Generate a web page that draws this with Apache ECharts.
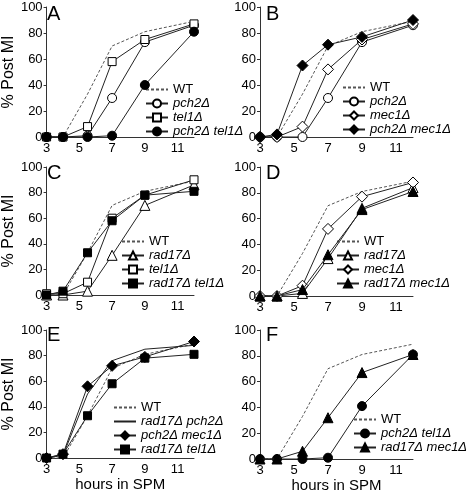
<!DOCTYPE html>
<html><head><meta charset="utf-8">
<script src="https://cdn.jsdelivr.net/npm/echarts@6/dist/echarts.min.js"></script>
<style>html,body{margin:0;padding:0;background:#fff}#c{width:470px;height:495px}</style>
</head><body><div id="c"></div>
<script>
const hours = [3, 4, 5.5, 7, 9, 12];
const xTickLabels = [3, 5, 7, 9, 11];
const panelLetters = ['A', 'B', 'C', 'D', 'E', 'F'];
const yAxisTitle = '% Post MI';
const xAxisTitle = 'hours in SPM';

const wt = [0, 0, 33, 70, 81, 89];
const pch2A = [0, 0, 1, 30, 73, 86];
const tel1A = [0, 0, 8, 58, 75, 87];
const pch2tel1A = [0, 0, 0, 1, 40, 81];
const pch2B = [0, 0, 0, 30, 73, 86];
const mec1B = [0, 0, 8, 52, 75, 87];
const pch2mec1B = [0, 2, 55, 71, 77, 90];
const rad17C = [0, 0, 3, 31, 70, 86];
const tel1C = [1, 1, 10, 60, 78, 90];
const rad17tel1C = [0, 3, 33, 58, 78, 81];
const rad17D = [0, 0, 2, 29, 68, 84];
const mec1D = [0, 0, 8, 52, 77, 88];
const rad17mec1D = [0, 0, 5, 32, 67, 81];
const rad17pch2E = [0, 2, 50, 76, 85, 88];
const pch2mec1E = [0, 3, 56, 72, 79, 91];
const rad17tel1E = [0, 3, 33, 58, 78, 81];
const pch2tel1F = [0, 0, 0, 1, 41, 81];
const rad17mec1F = [0, 0, 6, 32, 67, 81];

const styles = {
  'WT': {symbol: 'none', dashed: true},
  'pch2Δ': {symbol: 'circle', size: 9, fill: '#fff'},
  'tel1Δ': {symbol: 'rect', size: 8, fill: '#fff'},
  'pch2Δ tel1Δ': {symbol: 'circle', size: 9, fill: '#000'},
  'mec1Δ': {symbol: 'diamond', size: 11, fill: '#fff'},
  'pch2Δ mec1Δ': {symbol: 'diamond', size: 11, fill: '#000'},
  'rad17Δ': {symbol: 'triangle', size: 10, fill: '#fff'},
  'rad17Δ tel1Δ': {symbol: 'rect', size: 8, fill: '#000'},
  'rad17Δ mec1Δ': {symbol: 'triangle', size: 10, fill: '#000'},
  'rad17Δ pch2Δ': {symbol: 'none'}
};

const panels = [
  {series: [['WT', wt], ['pch2Δ', pch2A], ['tel1Δ', tel1A], ['pch2Δ tel1Δ', pch2tel1A]]},
  {series: [['WT', wt], ['pch2Δ', pch2B], ['mec1Δ', mec1B], ['pch2Δ mec1Δ', pch2mec1B]]},
  {series: [['WT', wt], ['rad17Δ', rad17C], ['tel1Δ', tel1C], ['rad17Δ tel1Δ', rad17tel1C]]},
  {series: [['WT', wt], ['rad17Δ', rad17D], ['mec1Δ', mec1D], ['rad17Δ mec1Δ', rad17mec1D]]},
  {series: [['WT', wt], ['rad17Δ pch2Δ', rad17pch2E], ['pch2Δ mec1Δ', pch2mec1E], ['rad17Δ tel1Δ', rad17tel1E]]},
  {series: [['WT', wt], ['pch2Δ tel1Δ', pch2tel1F], ['rad17Δ mec1Δ', rad17mec1F]]}
];

const gridPos = [
  {left: 41, top: 7, width: 153, height: 130},
  {left: 260, top: 7, width: 153, height: 130},
  {left: 41, top: 167, width: 153, height: 128},
  {left: 260, top: 167, width: 153, height: 129},
  {left: 41, top: 330, width: 153, height: 128},
  {left: 260, top: 330, width: 153, height: 129}
];
const legendPos = [
  {left: 145, top: 83}, {left: 342, top: 81},
  {left: 121, top: 235}, {left: 336, top: 235},
  {left: 113, top: 401}, {left: 353, top: 413}
];
const letterPos = [
  {left: 47, top: 4}, {left: 266, top: 4},
  {left: 47, top: 163}, {left: 266, top: 163},
  {left: 47, top: 325}, {left: 266, top: 325}
];

const FONT = 'Liberation Sans, Arial, sans-serif';
const hiddenMark = {color: 'transparent', borderColor: 'transparent', borderWidth: 0, opacity: 0};
const option = {
  animation: false,
  textStyle: {fontFamily: FONT},
  grid: gridPos.map(g => Object.assign({containLabel: false}, g)),
  title: panelLetters.map((t, i) => Object.assign({text: t, padding: 0,
    textStyle: {fontSize: 20, fontWeight: 'normal', color: '#000', fontFamily: FONT}}, letterPos[i])),
  xAxis: panels.map((p, i) => ({
    type: 'value', gridIndex: i, min: 3, max: 12,
    axisLine: {show: true, onZero: false, lineStyle: {color: '#333', width: 1}},
    axisTick: {show: false},
    splitLine: {show: false},
    axisLabel: {customValues: xTickLabels, fontSize: 13, color: '#000', margin: 5, fontFamily: FONT},
    name: i >= 4 ? xAxisTitle : '',
    nameLocation: 'middle', nameGap: 18,
    nameTextStyle: {fontSize: 15, color: '#000', fontFamily: FONT}
  })),
  yAxis: panels.map((p, i) => ({
    type: 'value', gridIndex: i, min: 0, max: 100, interval: 20,
    axisLine: {show: true, onZero: false, lineStyle: {color: '#333', width: 1}},
    axisTick: {show: true, length: 3, lineStyle: {color: '#333'}},
    splitLine: {show: false},
    axisLabel: {fontSize: 13, color: '#000', margin: 4, fontFamily: FONT},
    name: i % 2 === 0 ? yAxisTitle : '',
    nameLocation: 'middle', nameGap: 21, nameRotate: 90,
    nameTextStyle: {fontSize: 16, color: '#000', fontFamily: FONT}
  })),
  legend: panels.map((p, i) => Object.assign({
    orient: 'vertical', padding: 0, itemWidth: 22, itemHeight: 10, itemGap: 1,
    selectedMode: false,
    data: p.series.map(s => styles[s[0]].symbol === 'none'
      ? {name: s[0], itemStyle: hiddenMark}
      : {name: s[0]}),
    formatter: n => n === 'WT' ? n : '{i|' + n + '}',
    textStyle: {fontSize: 13, lineHeight: 13, color: '#000', fontFamily: FONT,
      rich: {i: {fontStyle: 'italic', fontSize: 13, lineHeight: 13, color: '#000', fontFamily: FONT}}}
  }, legendPos[i])),
  series: []
};

panels.forEach((p, i) => {
  p.series.forEach(([name, vals], k) => {
    const st = styles[name];
    option.series.push({
      type: 'line', name, xAxisIndex: i, yAxisIndex: i,
      data: hours.map((h, j) => [h, vals[j]]),
      symbol: st.symbol, symbolSize: st.size || 0,
      showSymbol: st.symbol !== 'none',
      clip: false, z: 2 + k,
      lineStyle: st.dashed ? {color: '#555', width: 1, type: [3, 2]} : {color: '#222', width: 1},
      itemStyle: {color: st.fill || '#222', borderColor: '#000', borderWidth: 1},
      emphasis: {disabled: true}
    });
  });
});

const chart = echarts.init(document.getElementById('c'), null, {renderer: 'canvas'});
chart.setOption(option);
</script></body></html>
